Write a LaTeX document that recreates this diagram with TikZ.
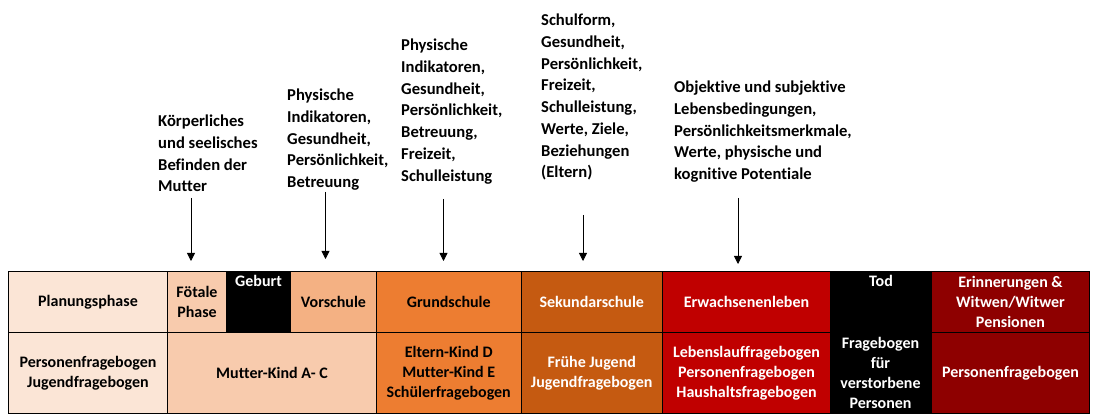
\documentclass[tikz,border=0pt]{standalone}
\usepackage{fontspec}
\setmainfont{Carlito}[Ligatures=NoCommon]
\usepackage{tikz}
\usetikzlibrary{arrows.meta,positioning}
\definecolor{planfill}{HTML}{FBE5D6}
\definecolor{fetalfill}{HTML}{F8CBAD}
\definecolor{vorfill}{HTML}{F4B183}
\definecolor{grundfill}{HTML}{ED7D31}
\definecolor{sekfill}{HTML}{C55A11}
\definecolor{erwfill}{HTML}{C00000}
\definecolor{erinfill}{HTML}{8E0000}
\newcommand\tabfont{\fontsize{16}{20}\selectfont\bfseries}
\newcommand\notefont{\fontsize{16.6}{21.7}\selectfont\bfseries}

\begin{document}
\begin{tikzpicture}[
  x=1pt, y=-1pt,
  cell/.style={draw=black, line width=1pt, anchor=north west, inner sep=0pt, align=center, font=\tabfont},
  upper/.style={cell, minimum height=60.5pt},
  lower/.style={cell, minimum height=81pt},
  whitetxt/.style={text=white},
  note/.style={anchor=north west, inner sep=0pt, align=left, font=\notefont},
  pfeil/.style={draw, -{Triangle[width=8pt,length=8pt]}, line width=0.8pt}
]
\useasboundingbox (0,0) rectangle (1097,419);

% upper row
\node[upper, fill=planfill, minimum width=159pt] (plan) at (8,271.5) {Planungsphase};
\node[upper, fill=fetalfill, minimum width=59pt] (fetal) at (167,271.5) {Fötale\\Phase};
\node[upper, fill=black, minimum width=64pt] (geburt) at (226,271.5) {};
\node[upper, fill=vorfill, minimum width=86pt] (vor) at (290,271.5) {Vorschule};
\node[upper, fill=grundfill, minimum width=144.5pt] (grund) at (376,271.5) {Grundschule};
\node[upper, fill=sekfill, whitetxt, minimum width=141.5pt] (sek) at (520.5,271.5) {Sekundarschule};
\node[upper, fill=erwfill, whitetxt, minimum width=168pt] (erw) at (662,271.5) {Erwachsenenleben};
\node[cell, fill=black, minimum width=101pt, minimum height=141.5pt] (tod) at (830,271.5) {};
\node[upper, fill=erinfill, whitetxt, minimum width=158pt] (erin) at (931,271.5) {Erinnerungen \&\\Witwen/Witwer\\Pensionen};

% lower row
\node[lower, fill=planfill, minimum width=159pt] (planq) at (8,332) {Personenfragebogen\\Jugendfragebogen};
\node[lower, fill=fetalfill, minimum width=209pt] (mkq) at (167,332) {Mutter-Kind A- C};
\node[lower, fill=grundfill, minimum width=144.5pt] (grundq) at (376,332) {Eltern-Kind D\\Mutter-Kind E\\Schülerfragebogen};
\node[lower, fill=sekfill, whitetxt, minimum width=141.5pt] (sekq) at (520.5,332) {Frühe Jugend\\Jugendfragebogen};
\node[lower, fill=erwfill, whitetxt, minimum width=168pt] (erwq) at (662,332) {Lebenslauffragebogen\\Personenfragebogen\\Haushaltsfragebogen};
\node[lower, fill=erinfill, whitetxt, minimum width=158pt] (erinq) at (931,332) {Personenfragebogen};

% labels in the black cells
\node[font=\tabfont, whitetxt, anchor=north, inner sep=0pt] (geburtlbl) at ([yshift=-4pt]geburt.north) {Geburt};
\node[font=\tabfont, whitetxt, anchor=north, inner sep=0pt] (todlbl) at ([yshift=-4pt]tod.north) {Tod};
\node[font=\tabfont, whitetxt, align=center, inner sep=0pt] (todq) at (880.5,373) {Fragebogen\\für\\verstorbene\\Personen};

% notes above the table
\node[note] (n1) at (158,115) {Körperliches\\und seelisches\\Befinden der\\Mutter};
\node[note] (n2) at (287,89) {Physische\\Indikatoren,\\Gesundheit,\\Persönlichkeit,\\Betreuung};
\node[note] (n3) at (401,39) {Physische\\Indikatoren,\\Gesundheit,\\Persönlichkeit,\\Betreuung,\\Freizeit,\\Schulleistung};
\node[note] (n4) at (541,14) {Schulform,\\Gesundheit,\\Persönlichkeit,\\Freizeit,\\Schulleistung,\\Werte, Ziele,\\Beziehungen\\(Eltern)};
\node[note] (n5) at (674,81) {Objektive und subjektive\\Lebensbedingungen,\\Persönlichkeitsmerkmale,\\Werte, physische und\\kognitive Potentiale};

% arrows
\coordinate (a1top) at (191,198);  \coordinate (a1bot) at (191,261);
\coordinate (a2top) at (325.5,192);  \coordinate (a2bot) at (325.5,259);
\coordinate (a3top) at (443.5,199);  \coordinate (a3bot) at (443.5,261);
\coordinate (a4top) at (583,215);  \coordinate (a4bot) at (583,261);
\coordinate (a5top) at (738,198);  \coordinate (a5bot) at (738,264);
\draw[pfeil] (a1top) -- (a1bot);
\draw[pfeil] (a2top) -- (a2bot);
\draw[pfeil] (a3top) -- (a3bot);
\draw[pfeil] (a4top) -- (a4bot);
\draw[pfeil] (a5top) -- (a5bot);
\end{tikzpicture}
\end{document}
